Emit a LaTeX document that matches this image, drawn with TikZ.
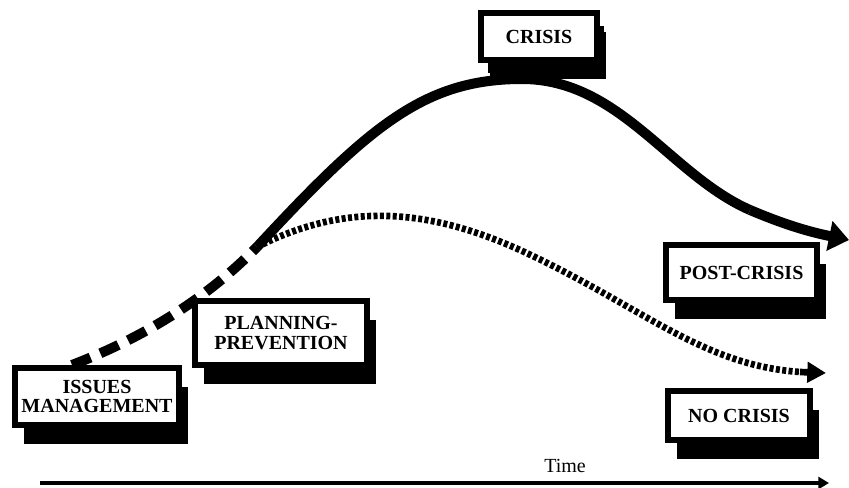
\documentclass[tikz,border=0pt]{standalone}
\usepackage{fontspec}
\setmainfont{Liberation Serif}
\usetikzlibrary{arrows.meta,shadows}

\begin{document}
\begin{tikzpicture}[x=0.75pt,y=-0.75pt,
  phase/.style={draw=black, line width=4.5pt, fill=white, inner sep=0pt,
    align=center, font=\bfseries\fontsize{15}{14.5}\selectfont,
    drop shadow={shadow xshift=6.75pt, shadow yshift=-14pt, opacity=1, fill=black}},
  route/.style={line width=7.5pt},
  warning/.style={line width=7.5pt, dash pattern=on 15pt off 8pt},
  calm/.style={line width=5pt, dash pattern=on 3pt off 1.8pt},
]
\useasboundingbox (0,0) rectangle (849,488);

% course of events
\coordinate (s0) at (72,365);
\coordinate (s1) at (257,247);
\coordinate (peak) at (522,79);
\coordinate (mid) at (750,210);
\coordinate (tipA) at (849,240);
\coordinate (d1) at (520,250);
\coordinate (d2) at (800,372);
\coordinate (tipB) at (826,373);

\draw[warning] (s0) .. controls (150,335) and (210,295) .. (s1);
\draw[route] (s1) .. controls (370,125) and (425,79) .. (peak)
  .. controls (620,79) and (670,175) .. (mid);
\draw[route, -{Triangle[length=15pt,width=22pt]}] (mid) .. controls (790,227) and (815,233) .. (tipA);
\draw[calm] (s1) .. controls (340,205) and (420,205) .. (d1)
  .. controls (640,305) and (700,365) .. (d2);
\draw[line width=5pt, -{Triangle[length=14pt,width=15pt]}] (d2) -- (tipB);

% phases
\node[phase, minimum width=123pt, minimum height=42.75pt] (issues) at (97,396.5) {ISSUES\\MANAGEMENT};
\node[phase, minimum width=129pt, minimum height=48pt] (plan) at (281,333) {PLANNING-\\PREVENTION};
\node[phase, minimum width=87pt, minimum height=35.25pt,
  drop shadow={shadow xshift=5pt, shadow yshift=-9.5pt, opacity=1, fill=black}] (crisis) at (539,36.5) {CRISIS};
\node[phase, minimum width=113.25pt, minimum height=41.25pt] (post) at (741.5,272.5) {POST-CRISIS};
\node[phase, minimum width=106.5pt, minimum height=36.75pt] (nocrisis) at (739,415.5) {NO CRISIS};

% time axis
\coordinate (t0) at (40,483);
\coordinate (t1) at (829,483);
\draw[line width=2.5pt, -{Triangle[length=8pt,width=9pt]}] (t0) -- (t1);
\node[font=\fontsize{15}{15}\selectfont, anchor=base] (time) at (565,472) {Time};
\end{tikzpicture}
\end{document}
